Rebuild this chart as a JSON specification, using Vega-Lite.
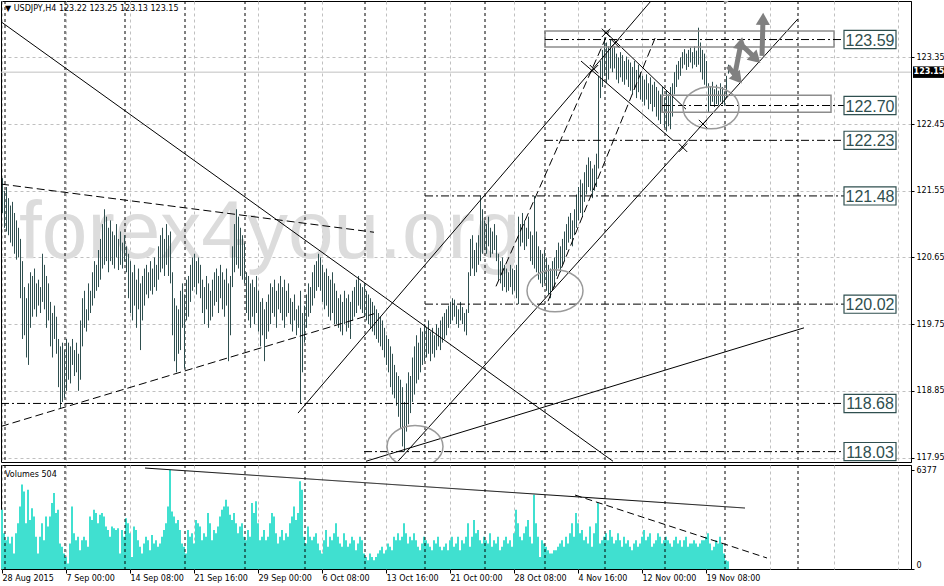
{
  "$schema": "https://vega.github.io/schema/vega-lite/v6.json",
  "background": "white",
  "padding": 0,
  "autosize": {"type": "pad"},
  "spacing": 3,
  "bounds": "flush",
  "config": {
    "view": {"stroke": "black", "strokeWidth": 1},
    "axis": {
      "labelFont": "DejaVu Sans", "labelFontSize": 8, "labelColor": "black",
      "domainColor": "black", "tickColor": "black", "tickSize": 3,
      "gridColor": "#c0c0c0", "gridDash": [3, 3], "gridWidth": 1, "title": null
    }
  },
  "datasets": {
    "bars": [
      {"i":0,"h":121.72,"l":121.25,"v":3810},{"i":1,"h":121.55,"l":121.05,"v":2300},{"i":2,"h":121.6,"l":121.0,"v":1860},{"i":3,"h":121.45,"l":120.95,"v":2080},
      {"i":4,"h":121.35,"l":120.85,"v":1650},{"i":5,"h":121.4,"l":120.8,"v":2080},{"i":6,"h":121.25,"l":120.7,"v":1000},{"i":7,"h":121.15,"l":120.62,"v":2300},
      {"i":8,"h":121.05,"l":120.65,"v":2950},{"i":9,"h":120.9,"l":120.1,"v":4030},{"i":10,"h":120.6,"l":119.55,"v":5440},{"i":11,"h":120.25,"l":119.6,"v":5000},
      {"i":12,"h":120.1,"l":119.3,"v":2950},{"i":13,"h":120.3,"l":119.2,"v":5110},{"i":14,"h":120.45,"l":119.7,"v":3160},{"i":15,"h":120.4,"l":119.85,"v":3920},
      {"i":16,"h":120.5,"l":119.95,"v":3380},{"i":17,"h":120.3,"l":119.85,"v":2080},{"i":18,"h":120.35,"l":120.0,"v":1000},{"i":19,"h":120.25,"l":119.9,"v":2080},
      {"i":20,"h":120.7,"l":120.05,"v":2950},{"i":21,"h":120.55,"l":119.95,"v":1860},{"i":22,"h":120.4,"l":119.7,"v":3380},{"i":23,"h":120.3,"l":119.8,"v":2730},
      {"i":24,"h":120.05,"l":119.45,"v":3380},{"i":25,"h":119.9,"l":119.3,"v":4250},{"i":26,"h":120.0,"l":119.55,"v":4900},{"i":27,"h":119.85,"l":119.35,"v":3600},
      {"i":28,"h":119.55,"l":118.9,"v":3810},{"i":29,"h":119.45,"l":118.62,"v":1650},{"i":30,"h":119.5,"l":118.7,"v":1430},{"i":31,"h":119.4,"l":118.75,"v":1000},
      {"i":32,"h":119.55,"l":118.85,"v":780},{"i":33,"h":119.5,"l":119.0,"v":350},{"i":34,"h":119.45,"l":118.95,"v":1650},{"i":35,"h":119.55,"l":119.2,"v":4030},
      {"i":36,"h":119.4,"l":119.05,"v":2300},{"i":37,"h":119.5,"l":119.1,"v":1860},{"i":38,"h":119.35,"l":118.85,"v":2080},{"i":39,"h":119.8,"l":119.0,"v":1210},
      {"i":40,"h":120.1,"l":119.45,"v":1860},{"i":41,"h":120.2,"l":119.7,"v":2080},{"i":42,"h":119.95,"l":119.65,"v":1860},{"i":43,"h":120.3,"l":119.8,"v":1430},
      {"i":44,"h":120.2,"l":119.9,"v":3380},{"i":45,"h":120.45,"l":120.0,"v":3160},{"i":46,"h":120.6,"l":120.1,"v":3810},{"i":47,"h":120.55,"l":120.2,"v":3600},
      {"i":48,"h":120.75,"l":120.25,"v":2950},{"i":49,"h":120.9,"l":120.35,"v":3490},{"i":50,"h":121.1,"l":120.5,"v":3600},{"i":51,"h":121.3,"l":120.55,"v":3380},
      {"i":52,"h":121.2,"l":120.6,"v":2730},{"i":53,"h":121.05,"l":120.45,"v":2510},{"i":54,"h":121.15,"l":120.6,"v":2080},{"i":55,"h":121.0,"l":120.55,"v":2730},
      {"i":56,"h":120.95,"l":120.5,"v":2620},{"i":57,"h":121.1,"l":120.65,"v":2510},{"i":58,"h":120.9,"l":120.48,"v":2620},{"i":59,"h":121.0,"l":120.55,"v":1000},
      {"i":60,"h":120.85,"l":120.5,"v":2510},{"i":61,"h":120.95,"l":120.6,"v":2080},{"i":62,"h":120.8,"l":120.45,"v":3270},{"i":63,"h":120.7,"l":120.1,"v":2950},
      {"i":64,"h":120.6,"l":119.9,"v":2300},{"i":65,"h":120.45,"l":119.8,"v":780},{"i":66,"h":120.55,"l":120.0,"v":2730},{"i":67,"h":120.35,"l":119.7,"v":2510},
      {"i":68,"h":120.5,"l":119.95,"v":1860},{"i":69,"h":120.3,"l":119.4,"v":1430},{"i":70,"h":120.4,"l":119.8,"v":1000},{"i":71,"h":120.5,"l":120.0,"v":1650},
      {"i":72,"h":120.55,"l":120.15,"v":2080},{"i":73,"h":120.45,"l":120.1,"v":1860},{"i":74,"h":120.6,"l":120.2,"v":1210},{"i":75,"h":120.5,"l":120.15,"v":2190},
      {"i":76,"h":120.65,"l":120.25,"v":1650},{"i":77,"h":120.55,"l":120.2,"v":1860},{"i":78,"h":120.8,"l":120.35,"v":1430},{"i":79,"h":120.95,"l":120.45,"v":1650},
      {"i":80,"h":121.05,"l":120.5,"v":2080},{"i":81,"h":120.9,"l":120.4,"v":2510},{"i":82,"h":121.1,"l":120.55,"v":2950},{"i":83,"h":120.95,"l":120.4,"v":4030},
      {"i":84,"h":121.0,"l":120.3,"v":6377},{"i":85,"h":120.45,"l":119.6,"v":3700},{"i":86,"h":120.1,"l":119.25,"v":3380},{"i":87,"h":120.0,"l":119.1,"v":2950},
      {"i":88,"h":119.95,"l":119.35,"v":3160},{"i":89,"h":120.2,"l":119.4,"v":2510},{"i":90,"h":120.3,"l":119.7,"v":1650},{"i":91,"h":120.15,"l":119.15,"v":1430},
      {"i":92,"h":120.35,"l":119.8,"v":1000},{"i":93,"h":120.4,"l":119.85,"v":2510},{"i":94,"h":120.55,"l":120.05,"v":2080},{"i":95,"h":120.65,"l":120.2,"v":2300},
      {"i":96,"h":120.7,"l":120.25,"v":1650},{"i":97,"h":120.6,"l":120.15,"v":3160},{"i":98,"h":120.65,"l":120.3,"v":2950},{"i":99,"h":120.55,"l":120.1,"v":2730},
      {"i":100,"h":120.35,"l":119.9,"v":1860},{"i":101,"h":120.25,"l":119.75,"v":2300},{"i":102,"h":120.4,"l":119.95,"v":2080},{"i":103,"h":120.3,"l":119.7,"v":3600},
      {"i":104,"h":120.2,"l":119.8,"v":2950},{"i":105,"h":120.35,"l":119.85,"v":1860},{"i":106,"h":120.45,"l":120.0,"v":2510},{"i":107,"h":120.5,"l":120.05,"v":2300},
      {"i":108,"h":120.4,"l":119.9,"v":2730},{"i":109,"h":120.55,"l":120.1,"v":3380},{"i":110,"h":120.45,"l":119.95,"v":3810},{"i":111,"h":120.35,"l":119.85,"v":4030},
      {"i":112,"h":120.5,"l":120.0,"v":4460},{"i":113,"h":120.3,"l":119.25,"v":4030},{"i":114,"h":120.4,"l":119.6,"v":3490},{"i":115,"h":120.8,"l":120.25,"v":3160},
      {"i":116,"h":121.1,"l":120.45,"v":3600},{"i":117,"h":121.3,"l":120.55,"v":2950},{"i":118,"h":121.2,"l":120.5,"v":2300},{"i":119,"h":121.05,"l":120.4,"v":2730},
      {"i":120,"h":120.95,"l":120.35,"v":2950},{"i":121,"h":120.85,"l":120.3,"v":2080},{"i":122,"h":120.45,"l":119.9,"v":1860},{"i":123,"h":120.4,"l":119.8,"v":2510},
      {"i":124,"h":120.3,"l":119.7,"v":2080},{"i":125,"h":120.35,"l":119.85,"v":4250},{"i":126,"h":120.25,"l":119.75,"v":3600},{"i":127,"h":120.4,"l":119.9,"v":4360},
      {"i":128,"h":120.2,"l":119.65,"v":2950},{"i":129,"h":120.05,"l":119.45,"v":1860},{"i":130,"h":120.1,"l":119.6,"v":2080},{"i":131,"h":119.95,"l":119.25,"v":2510},
      {"i":132,"h":120.05,"l":119.55,"v":1860},{"i":133,"h":120.15,"l":119.65,"v":2080},{"i":134,"h":120.3,"l":119.75,"v":2950},{"i":135,"h":120.25,"l":119.9,"v":3600},
      {"i":136,"h":120.35,"l":119.85,"v":3380},{"i":137,"h":120.2,"l":119.7,"v":2300},{"i":138,"h":120.3,"l":119.95,"v":1650},{"i":139,"h":120.4,"l":119.9,"v":2080},
      {"i":140,"h":120.25,"l":119.8,"v":2510},{"i":141,"h":120.35,"l":119.7,"v":1860},{"i":142,"h":120.2,"l":119.85,"v":2300},{"i":143,"h":120.3,"l":119.9,"v":2080},
      {"i":144,"h":120.1,"l":119.75,"v":2950},{"i":145,"h":120.05,"l":119.65,"v":3380},{"i":146,"h":120.15,"l":119.8,"v":4030},{"i":147,"h":119.95,"l":119.6,"v":3160},
      {"i":148,"h":120.0,"l":119.7,"v":3600},{"i":149,"h":120.2,"l":118.68,"v":5660},{"i":150,"h":119.9,"l":119.1,"v":5110},{"i":151,"h":120.0,"l":119.5,"v":2080},
      {"i":152,"h":120.15,"l":119.7,"v":1650},{"i":153,"h":120.3,"l":119.85,"v":2730},{"i":154,"h":120.25,"l":119.9,"v":2080},{"i":155,"h":120.45,"l":120.0,"v":1860},
      {"i":156,"h":120.55,"l":120.1,"v":2080},{"i":157,"h":120.6,"l":120.2,"v":2300},{"i":158,"h":120.7,"l":120.25,"v":1650},{"i":159,"h":120.65,"l":120.2,"v":1210},
      {"i":160,"h":120.55,"l":120.05,"v":1000},{"i":161,"h":120.45,"l":119.95,"v":1860},{"i":162,"h":120.5,"l":120.0,"v":2510},{"i":163,"h":120.4,"l":119.85,"v":1430},
      {"i":164,"h":120.35,"l":119.8,"v":2080},{"i":165,"h":120.45,"l":119.9,"v":1860},{"i":166,"h":120.3,"l":119.75,"v":2300},{"i":167,"h":120.2,"l":119.75,"v":2950},
      {"i":168,"h":120.1,"l":119.7,"v":2080},{"i":169,"h":120.15,"l":119.65,"v":1650},{"i":170,"h":120.05,"l":119.6,"v":1430},{"i":171,"h":120.2,"l":119.75,"v":2300},
      {"i":172,"h":120.1,"l":119.65,"v":1860},{"i":173,"h":120.15,"l":119.7,"v":1430},{"i":174,"h":120.05,"l":119.55,"v":1650},{"i":175,"h":120.2,"l":119.8,"v":2080},
      {"i":176,"h":120.25,"l":119.85,"v":1860},{"i":177,"h":120.35,"l":119.9,"v":1210},{"i":178,"h":120.4,"l":120.0,"v":1650},{"i":179,"h":120.3,"l":119.95,"v":2080},
      {"i":180,"h":120.25,"l":119.9,"v":1860},{"i":181,"h":120.3,"l":119.85,"v":1000},{"i":182,"h":120.2,"l":119.8,"v":780},{"i":183,"h":120.15,"l":119.75,"v":560},
      {"i":184,"h":120.1,"l":119.7,"v":1000},{"i":185,"h":120.05,"l":119.65,"v":780},{"i":186,"h":120.0,"l":119.6,"v":560},{"i":187,"h":119.95,"l":119.55,"v":780},
      {"i":188,"h":119.9,"l":119.5,"v":1000},{"i":189,"h":119.85,"l":119.45,"v":1210},{"i":190,"h":119.8,"l":119.4,"v":1430},{"i":191,"h":119.7,"l":119.3,"v":1000},
      {"i":192,"h":119.6,"l":119.2,"v":1210},{"i":193,"h":119.55,"l":119.1,"v":1650},{"i":194,"h":119.45,"l":118.9,"v":1430},{"i":195,"h":119.35,"l":118.8,"v":1210},
      {"i":196,"h":119.2,"l":118.75,"v":2080},{"i":197,"h":119.1,"l":118.65,"v":1860},{"i":198,"h":119.05,"l":118.5,"v":2300},{"i":199,"h":119.0,"l":118.35,"v":1860},
      {"i":200,"h":118.9,"l":118.1,"v":2080},{"i":201,"h":118.7,"l":118.03,"v":2950},{"i":202,"h":118.95,"l":118.3,"v":2300},{"i":203,"h":119.1,"l":118.4,"v":1650},
      {"i":204,"h":119.05,"l":118.55,"v":2080},{"i":205,"h":119.3,"l":118.7,"v":1860},{"i":206,"h":119.45,"l":118.8,"v":2300},{"i":207,"h":119.6,"l":118.95,"v":1860},
      {"i":208,"h":119.5,"l":119.0,"v":1430},{"i":209,"h":119.7,"l":119.1,"v":1210},{"i":210,"h":119.65,"l":119.2,"v":1650},{"i":211,"h":119.75,"l":119.25,"v":2080},
      {"i":212,"h":119.7,"l":119.3,"v":1860},{"i":213,"h":119.8,"l":119.35,"v":1650},{"i":214,"h":119.65,"l":119.25,"v":1430},{"i":215,"h":119.7,"l":119.35,"v":1210},
      {"i":216,"h":119.6,"l":119.3,"v":1860},{"i":217,"h":119.75,"l":119.4,"v":1650},{"i":218,"h":119.7,"l":119.45,"v":2080},{"i":219,"h":119.8,"l":119.4,"v":1430},
      {"i":220,"h":119.85,"l":119.5,"v":1210},{"i":221,"h":119.9,"l":119.55,"v":1430},{"i":222,"h":119.95,"l":119.6,"v":1650},{"i":223,"h":120.0,"l":119.7,"v":1210},
      {"i":224,"h":120.05,"l":119.75,"v":1860},{"i":225,"h":120.1,"l":119.8,"v":2080},{"i":226,"h":120.08,"l":119.85,"v":1430},{"i":227,"h":120.0,"l":119.75,"v":1650},
      {"i":228,"h":119.95,"l":119.7,"v":2080},{"i":229,"h":120.05,"l":119.8,"v":1210},{"i":230,"h":119.98,"l":119.75,"v":1860},{"i":231,"h":119.9,"l":119.65,"v":1650},
      {"i":232,"h":119.95,"l":119.6,"v":2080},{"i":233,"h":120.45,"l":119.9,"v":2950},{"i":234,"h":120.9,"l":120.4,"v":1430},{"i":235,"h":120.95,"l":120.5,"v":2080},
      {"i":236,"h":120.75,"l":120.4,"v":3160},{"i":237,"h":120.85,"l":120.45,"v":2300},{"i":238,"h":120.95,"l":120.55,"v":2510},{"i":239,"h":121.48,"l":120.6,"v":1860},
      {"i":240,"h":121.3,"l":120.7,"v":1650},{"i":241,"h":121.15,"l":120.75,"v":2080},{"i":242,"h":121.1,"l":120.7,"v":1860},{"i":243,"h":121.2,"l":120.8,"v":1650},
      {"i":244,"h":121.05,"l":120.65,"v":2300},{"i":245,"h":121.0,"l":120.7,"v":1430},{"i":246,"h":121.1,"l":120.75,"v":1860},{"i":247,"h":120.95,"l":120.6,"v":1650},
      {"i":248,"h":120.7,"l":120.35,"v":2080},{"i":249,"h":120.6,"l":120.3,"v":1210},{"i":250,"h":120.65,"l":120.2,"v":1430},{"i":251,"h":120.55,"l":120.25,"v":1860},
      {"i":252,"h":120.5,"l":120.18,"v":2080},{"i":253,"h":120.45,"l":120.2,"v":1650},{"i":254,"h":120.55,"l":120.25,"v":1860},{"i":255,"h":120.5,"l":120.15,"v":1430},
      {"i":256,"h":120.48,"l":120.2,"v":2300},{"i":257,"h":120.55,"l":120.1,"v":3810},{"i":258,"h":121.2,"l":120.02,"v":2950},{"i":259,"h":121.1,"l":120.8,"v":2080},
      {"i":260,"h":121.25,"l":120.85,"v":1860},{"i":261,"h":121.15,"l":120.75,"v":2300},{"i":262,"h":121.05,"l":120.8,"v":2730},{"i":263,"h":121.2,"l":120.9,"v":3160},
      {"i":264,"h":121.0,"l":120.6,"v":2080},{"i":265,"h":120.95,"l":120.55,"v":1650},{"i":266,"h":121.48,"l":120.5,"v":4790},{"i":267,"h":121.0,"l":120.45,"v":2950},
      {"i":268,"h":120.8,"l":120.35,"v":2080},{"i":269,"h":120.75,"l":120.3,"v":780},{"i":270,"h":120.7,"l":120.25,"v":1860},{"i":271,"h":120.75,"l":120.3,"v":1650},
      {"i":272,"h":120.65,"l":120.2,"v":1430},{"i":273,"h":120.55,"l":120.15,"v":1210},{"i":274,"h":120.5,"l":120.1,"v":1000},{"i":275,"h":120.6,"l":120.2,"v":1000},
      {"i":276,"h":120.65,"l":120.25,"v":1210},{"i":277,"h":120.75,"l":120.4,"v":1210},{"i":278,"h":120.85,"l":120.5,"v":1430},{"i":279,"h":120.8,"l":120.45,"v":1650},
      {"i":280,"h":120.9,"l":120.55,"v":1860},{"i":281,"h":121.0,"l":120.6,"v":1430},{"i":282,"h":121.1,"l":120.75,"v":2080},{"i":283,"h":121.2,"l":120.85,"v":1650},
      {"i":284,"h":121.25,"l":120.9,"v":2300},{"i":285,"h":121.15,"l":120.8,"v":2950},{"i":286,"h":121.3,"l":120.95,"v":2080},{"i":287,"h":121.5,"l":121.05,"v":3600},
      {"i":288,"h":121.6,"l":121.15,"v":2950},{"i":289,"h":121.7,"l":121.25,"v":2300},{"i":290,"h":121.65,"l":121.2,"v":2510},{"i":291,"h":121.8,"l":121.4,"v":1860},
      {"i":292,"h":121.9,"l":121.5,"v":2080},{"i":293,"h":122.0,"l":121.6,"v":1650},{"i":294,"h":121.95,"l":121.55,"v":2730},{"i":295,"h":121.85,"l":121.45,"v":1430},
      {"i":296,"h":121.9,"l":121.55,"v":2300},{"i":297,"h":122.05,"l":121.6,"v":2950},{"i":298,"h":123.1,"l":121.85,"v":4250},{"i":299,"h":123.3,"l":122.8,"v":1650},
      {"i":300,"h":123.45,"l":122.95,"v":1860},{"i":301,"h":123.61,"l":123.1,"v":2080},{"i":302,"h":123.55,"l":123.0,"v":2300},{"i":303,"h":123.5,"l":123.05,"v":1860},
      {"i":304,"h":123.59,"l":123.2,"v":2510},{"i":305,"h":123.48,"l":123.15,"v":2080},{"i":306,"h":123.5,"l":123.2,"v":1650},{"i":307,"h":123.4,"l":123.05,"v":1860},
      {"i":308,"h":123.35,"l":123.0,"v":2300},{"i":309,"h":123.42,"l":123.08,"v":1860},{"i":310,"h":123.38,"l":123.02,"v":1430},{"i":311,"h":123.3,"l":122.98,"v":2080},
      {"i":312,"h":123.36,"l":123.05,"v":1650},{"i":313,"h":123.32,"l":122.95,"v":1860},{"i":314,"h":123.28,"l":122.9,"v":1430},{"i":315,"h":123.22,"l":122.85,"v":1210},
      {"i":316,"h":123.3,"l":122.92,"v":1650},{"i":317,"h":123.18,"l":122.8,"v":1860},{"i":318,"h":123.25,"l":122.88,"v":1430},{"i":319,"h":123.15,"l":122.78,"v":1650},
      {"i":320,"h":123.1,"l":122.75,"v":2080},{"i":321,"h":123.05,"l":122.7,"v":2510},{"i":322,"h":123.12,"l":122.78,"v":1860},{"i":323,"h":123.0,"l":122.65,"v":2080},
      {"i":324,"h":123.08,"l":122.72,"v":2300},{"i":325,"h":122.98,"l":122.62,"v":1430},{"i":326,"h":123.02,"l":122.68,"v":1650},{"i":327,"h":122.95,"l":122.55,"v":1860},
      {"i":328,"h":122.9,"l":122.5,"v":2300},{"i":329,"h":122.85,"l":122.45,"v":2080},{"i":330,"h":122.95,"l":122.6,"v":1650},{"i":331,"h":122.8,"l":122.4,"v":1860},
      {"i":332,"h":122.9,"l":122.35,"v":2080},{"i":333,"h":122.85,"l":122.42,"v":1860},{"i":334,"h":122.95,"l":122.38,"v":1650},{"i":335,"h":123.0,"l":122.55,"v":1430},
      {"i":336,"h":123.15,"l":122.85,"v":1860},{"i":337,"h":123.25,"l":122.95,"v":2080},{"i":338,"h":123.3,"l":123.05,"v":1650},{"i":339,"h":123.35,"l":123.1,"v":1860},
      {"i":340,"h":123.42,"l":123.2,"v":1430},{"i":341,"h":123.46,"l":123.25,"v":1860},{"i":342,"h":123.4,"l":123.18,"v":2080},{"i":343,"h":123.45,"l":123.22,"v":1430},
      {"i":344,"h":123.48,"l":123.28,"v":1650},{"i":345,"h":123.42,"l":123.2,"v":1650},{"i":346,"h":123.5,"l":123.25,"v":1860},{"i":347,"h":123.44,"l":123.22,"v":1650},
      {"i":348,"h":123.75,"l":123.25,"v":1430},{"i":349,"h":123.55,"l":123.15,"v":1650},{"i":350,"h":123.45,"l":123.05,"v":1860},{"i":351,"h":123.4,"l":122.98,"v":1860},
      {"i":352,"h":123.3,"l":122.95,"v":2080},{"i":353,"h":123.0,"l":122.6,"v":2300},{"i":354,"h":122.95,"l":122.7,"v":1650},{"i":355,"h":123.02,"l":122.75,"v":1210},
      {"i":356,"h":122.92,"l":122.68,"v":1430},{"i":357,"h":122.98,"l":122.72,"v":1860},{"i":358,"h":122.9,"l":122.7,"v":1650},{"i":359,"h":123.0,"l":122.75,"v":2080},
      {"i":360,"h":122.95,"l":122.72,"v":1650},{"i":361,"h":122.88,"l":122.7,"v":1000},{"i":362,"h":123.1,"l":122.8,"v":560},{"i":363,"h":123.25,"l":123.13,"v":504}
    ],
    "vlines": [{"i":1.5},{"i":31.5},{"i":61.5},{"i":91.5},{"i":121.5},{"i":151.5},{"i":181.5},{"i":211.5},{"i":241.5},{"i":271.5},{"i":301.5},{"i":331.5},{"i":361.5},{"i":398}],
    "solid": [
      {"i0":-0.5,"p0":123.83,"i1":305.5,"p1":117.9},
      {"i0":148,"p0":118.55,"i1":324.5,"p1":124.11},
      {"i0":198,"p0":117.9,"i1":398,"p1":123.87},
      {"i0":182,"p0":117.9,"i1":401,"p1":119.7},
      {"i0":301,"p0":123.71,"i1":342,"p1":122.65},
      {"i0":289.5,"p0":123.3,"i1":335.5,"p1":122.23}
    ],
    "dashed": [
      {"i0":-0.5,"p0":121.64,"i1":186,"p1":120.99},
      {"i0":-0.5,"p0":118.37,"i1":186,"p1":119.89},
      {"i0":247,"p0":120.26,"i1":303.5,"p1":123.71},
      {"i0":273,"p0":120.06,"i1":327,"p1":123.64}
    ],
    "levels": [
      {"p":123.59,"i0":271.5},{"p":122.7,"i0":330},{"p":122.23,"i0":271.5},{"p":121.48,"i0":211.5},
      {"p":120.02,"i0":211.5},{"p":118.68,"i0":-0.5},{"p":118.03,"i0":181}
    ],
    "zones": [
      {"i0":271.5,"p0":123.705,"i1":416,"p1":123.49},
      {"i0":330,"p0":122.84,"i1":414.5,"p1":122.61}
    ],
    "ellipses": [{"i":206.5,"p":118.1},{"i":276.5,"p":120.2},{"i":354.5,"p":122.67}],
    "crosses": [{"i":296,"p":123.19},{"i":302,"p":123.68},{"i":306.5,"p":123.54},{"i":340.5,"p":122.13},{"i":350.5,"p":122.45}],
    "arrows": [
      {"i0":363,"p0":123.23,"i1":368,"p1":123.06},
      {"i0":366,"p0":123.06,"i1":369.5,"p1":123.54},
      {"i0":370.5,"p0":123.5,"i1":377,"p1":123.33},
      {"i0":380,"p0":123.37,"i1":380.5,"p1":123.87}
    ],
    "vollines": [
      {"i0":71.5,"v0":6504,"i1":371.5,"v1":3928,"k":"solid"},
      {"i0":286.5,"v0":4766,"i1":382.5,"v1":708,"k":"dashed"}
    ]
  },
  "vconcat": [
    {
      "width": 910,
      "height": 461,
      "layer": [
        {
          "data": {"values": [{"i":8.5,"p":120.64,"t":"forex4you.org"}]},
          "mark": {"type": "text", "align": "left", "baseline": "alphabetic", "font": "Liberation Sans", "fontSize": 82, "color": "#dcdcdc"},
          "encoding": {
            "x": {"field": "i", "type": "quantitative", "scale": {"domain": [-0.5, 454.5], "nice": false, "zero": false},
              "axis": {"values": [0,16,32,48,64,80,96,112,128,144,160,176,192,208,224,240,256,272,288,304,320,336,352,368,384,400,416,432,448], "labels": false, "ticks": false, "domain": false, "grid": true}},
            "y": {"field": "p", "type": "quantitative", "scale": {"domain": [117.89, 124.11], "nice": false, "zero": false},
              "axis": {"orient": "right", "values": [117.95,118.4,118.85,119.3,119.75,120.2,120.65,121.1,121.55,122,122.45,122.9,123.35,123.8], "format": ".2f", "grid": true, "labelPadding": 2}},
            "text": {"field": "t"}
          }
        },
        {
          "data": {"name": "vlines"},
          "mark": {"type": "rule", "color": "black", "strokeWidth": 1, "strokeDash": [3, 3]},
          "encoding": {"x": {"field": "i", "type": "quantitative"}}
        },
        {
          "data": {"values": [{"p": 123.15}]},
          "mark": {"type": "rule", "color": "#c0c0c0", "strokeWidth": 1},
          "encoding": {"y": {"field": "p", "type": "quantitative"}}
        },
        {
          "data": {"name": "bars"},
          "mark": {"type": "rule", "color": "#2f4f4f", "strokeWidth": 1, "xOffset": 0.5},
          "encoding": {
            "x": {"field": "i", "type": "quantitative"},
            "y": {"field": "l", "type": "quantitative"},
            "y2": {"field": "h"}
          }
        },
        {
          "data": {"name": "solid"},
          "mark": {"type": "rule", "color": "black", "strokeWidth": 1, "clip": true},
          "encoding": {
            "x": {"field": "i0", "type": "quantitative"}, "x2": {"field": "i1"},
            "y": {"field": "p0", "type": "quantitative"}, "y2": {"field": "p1"}
          }
        },
        {
          "data": {"name": "dashed"},
          "mark": {"type": "rule", "color": "black", "strokeWidth": 1, "strokeDash": [8, 4], "clip": true},
          "encoding": {
            "x": {"field": "i0", "type": "quantitative"}, "x2": {"field": "i1"},
            "y": {"field": "p0", "type": "quantitative"}, "y2": {"field": "p1"}
          }
        },
        {
          "data": {"name": "zones"},
          "mark": {"type": "rect", "fillOpacity": 0, "stroke": "#8c8c8c", "strokeWidth": 1.5},
          "encoding": {
            "x": {"field": "i0", "type": "quantitative"}, "x2": {"field": "i1"},
            "y": {"field": "p0", "type": "quantitative"}, "y2": {"field": "p1"}
          }
        },
        {
          "data": {"name": "levels"},
          "mark": {"type": "rule", "color": "black", "strokeWidth": 1, "strokeDash": [8, 3, 2, 3]},
          "encoding": {
            "x": {"field": "i0", "type": "quantitative"}, "x2": {"datum": 421},
            "y": {"field": "p", "type": "quantitative"}
          }
        },
        {
          "data": {"name": "levels"},
          "mark": {"type": "point", "shape": "M-1,-0.35H1V0.35H-1Z", "size": 2704, "filled": true, "fill": "white", "stroke": "#2f4f4f", "strokeWidth": 1.2, "opacity": 1},
          "encoding": {
            "x": {"datum": 434, "type": "quantitative"},
            "y": {"field": "p", "type": "quantitative"}
          }
        },
        {
          "data": {"name": "levels"},
          "mark": {"type": "text", "align": "center", "baseline": "middle", "font": "Liberation Sans", "fontSize": 16, "color": "#2f4f4f", "dy": 1},
          "encoding": {
            "x": {"datum": 434, "type": "quantitative"},
            "y": {"field": "p", "type": "quantitative"},
            "text": {"field": "p", "type": "quantitative", "format": ".2f"}
          }
        },
        {
          "data": {"name": "ellipses"},
          "mark": {"type": "point", "shape": "M-1,0A1,0.75,0,1,1,1,0A1,0.75,0,1,1,-1,0Z", "size": 3136, "filled": false, "stroke": "#9a9a9a", "strokeWidth": 1.5, "opacity": 1, "clip": true},
          "encoding": {
            "x": {"field": "i", "type": "quantitative"},
            "y": {"field": "p", "type": "quantitative"}
          }
        },
        {
          "data": {"name": "crosses"},
          "mark": {"type": "point", "shape": "M-1,-1L1,1M-1,1L1,-1", "size": 70, "filled": false, "stroke": "black", "strokeWidth": 1, "opacity": 1},
          "encoding": {
            "x": {"field": "i", "type": "quantitative"},
            "y": {"field": "p", "type": "quantitative"}
          }
        },
        {
          "data": {"name": "arrows"},
          "mark": {"type": "rule", "color": "#808080", "strokeWidth": 5},
          "encoding": {
            "x": {"field": "i0", "type": "quantitative"}, "x2": {"field": "i1"},
            "y": {"field": "p0", "type": "quantitative"}, "y2": {"field": "p1"}
          }
        },
        {
          "data": {"name": "arrows"},
          "transform": [{"calculate": "atan2((datum.i1 - datum.i0) * 2, (datum.p1 - datum.p0) * 74.1) * 180 / PI", "as": "a"}],
          "mark": {"type": "point", "shape": "triangle-up", "size": 200, "filled": true, "color": "#808080", "opacity": 1},
          "encoding": {
            "x": {"field": "i1", "type": "quantitative"},
            "y": {"field": "p1", "type": "quantitative"},
            "angle": {"field": "a", "type": "quantitative", "scale": null}
          }
        },
        {
          "data": {"values": [{"i": 362, "p": 124.16}]},
          "mark": {"type": "point", "shape": "diamond", "size": 160, "filled": true, "color": "#a0a0a0", "opacity": 1, "clip": true},
          "encoding": {
            "x": {"field": "i", "type": "quantitative"},
            "y": {"field": "p", "type": "quantitative"}
          }
        },
        {
          "data": {"values": [{"i": 1.5, "p": 124.0, "t": "▼  USDJPY,H4  123.22 123.25 123.13 123.15"}]},
          "mark": {"type": "text", "align": "left", "baseline": "middle", "font": "DejaVu Sans", "fontSize": 8, "color": "black"},
          "encoding": {
            "x": {"field": "i", "type": "quantitative"},
            "y": {"field": "p", "type": "quantitative"},
            "text": {"field": "t"}
          }
        },
        {
          "data": {"values": [{"i": 463.5, "p": 123.15}]},
          "mark": {"type": "point", "shape": "M-1,-0.36H1V0.36H-1Z", "size": 1024, "filled": true, "color": "black", "opacity": 1},
          "encoding": {
            "x": {"field": "i", "type": "quantitative"},
            "y": {"field": "p", "type": "quantitative"}
          }
        },
        {
          "data": {"values": [{"i": 463.5, "p": 123.15}]},
          "mark": {"type": "text", "align": "center", "baseline": "middle", "font": "DejaVu Sans", "fontSize": 8, "fontWeight": "bold", "color": "white"},
          "encoding": {
            "x": {"field": "i", "type": "quantitative"},
            "y": {"field": "p", "type": "quantitative"},
            "text": {"field": "p", "type": "quantitative", "format": ".2f"}
          }
        }
      ]
    },
    {
      "width": 910,
      "height": 104,
      "layer": [
        {
          "data": {"name": "bars"},
          "mark": {"type": "rule", "color": "#40e0d0", "strokeWidth": 2},
          "encoding": {
            "x": {"field": "i", "type": "quantitative", "scale": {"domain": [-0.5, 454.5], "nice": false, "zero": false},
              "axis": {
                "values": [0,16,32,48,64,80,96,112,128,144,160,176,192,208,224,240,256,272,288,304,320,336,352,368,384,400,416,432,448],
                "grid": true, "domain": false, "tickSize": 4, "labelAlign": "left", "labelPadding": 1, "labelFlush": false, "labelOverlap": false, "labelBound": false,
                "tickOpacity": {"condition": {"test": "datum.value % 32 === 0 && datum.value <= 352", "value": 1}, "value": 0},
                "labelExpr": "datum.value % 32 === 0 && datum.value <= 352 ? ['28 Aug 2015','7 Sep 00:00','14 Sep 08:00','21 Sep 16:00','29 Sep 00:00','6 Oct 08:00','13 Oct 16:00','21 Oct 00:00','28 Oct 08:00','4 Nov 16:00','12 Nov 00:00','19 Nov 08:00'][datum.value / 32] : ''"
              }},
            "y": {"field": "v", "type": "quantitative", "scale": {"domain": [0, 6700], "nice": false, "zero": true},
              "axis": {"orient": "right", "values": [0, 6377], "format": "d", "grid": false, "labelPadding": 2,
                "labelBaseline": {"condition": {"test": "datum.value === 0", "value": "bottom"}, "value": "middle"}}},
            "y2": {"datum": 0}
          }
        },
        {
          "data": {"name": "vlines"},
          "mark": {"type": "rule", "color": "black", "strokeWidth": 1, "strokeDash": [3, 3]},
          "encoding": {"x": {"field": "i", "type": "quantitative"}}
        },
        {
          "data": {"name": "vollines"},
          "mark": {"type": "rule", "color": "black", "strokeWidth": 1, "clip": true},
          "encoding": {
            "x": {"field": "i0", "type": "quantitative"}, "x2": {"field": "i1"},
            "y": {"field": "v0", "type": "quantitative"}, "y2": {"field": "v1"},
            "strokeDash": {"field": "k", "type": "nominal", "scale": {"domain": ["solid", "dashed"], "range": [[1, 0], [7, 4]]}, "legend": null}
          }
        },
        {
          "data": {"values": [{"i": 1.5, "v": 6080, "t": "Volumes 504"}]},
          "mark": {"type": "text", "align": "left", "baseline": "middle", "font": "DejaVu Sans", "fontSize": 8, "color": "black"},
          "encoding": {
            "x": {"field": "i", "type": "quantitative"},
            "y": {"field": "v", "type": "quantitative"},
            "text": {"field": "t"}
          }
        }
      ]
    }
  ]
}
